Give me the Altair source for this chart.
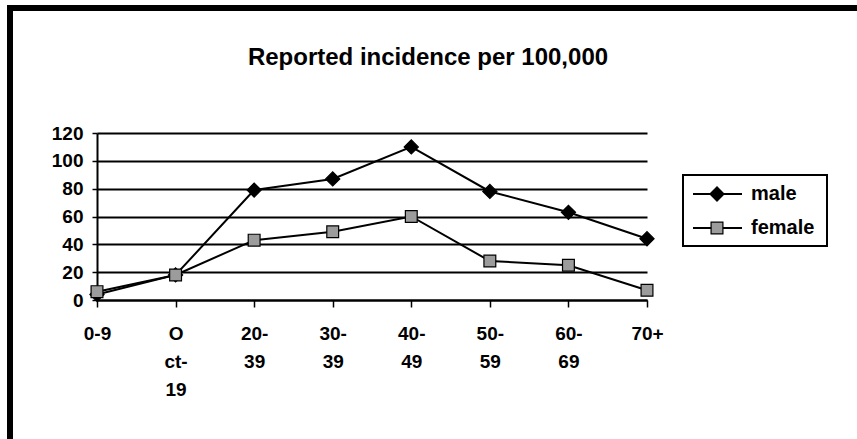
import altair as alt
import pandas as pd

# Age groups (tick labels use "|" as a line break)
age_groups = ["0-9", "O|ct-|19", "20-|39", "30-|39", "40-|49", "50-|59", "60-|69", "70+"]
male = [4, 18, 79, 87, 110, 78, 63, 44]
female = [6, 18, 43, 49, 60, 28, 25, 7]
series = ["male", "female"]
y_ticks = [0, 20, 40, 60, 80, 100, 120]
title_text = "Reported incidence per 100,000"

rows = []
for name, vals in zip(series, [male, female]):
    for g, v in zip(age_groups, vals):
        rows.append({"age": g, "incidence": v, "sex": name})
df = pd.DataFrame(rows)
legend_df = pd.DataFrame({"sex": series})
one_row = pd.DataFrame({"title": [title_text]})

FONT = "Liberation Sans"
MARKER_FILL = ["black", "#9c9c9c"]
MARKER_SHAPE = ["diamond", "square"]
MARKER_SIZE = [200, 140]

x_enc = alt.X(
    "age:N",
    sort=age_groups,
    scale=alt.Scale(type="point", padding=0),
    axis=alt.Axis(
        title=None,
        labelExpr="split(datum.value, '|')",
        labelAngle=0,
        labelFont=FONT,
        labelFontSize=19,
        labelFontWeight="bold",
        labelColor="black",
        labelLineHeight=28,
        labelBaseline="top",
        labelPadding=17,
        tickSize=7,
        tickColor="black",
        tickWidth=1.5,
        domainColor="black",
        domainWidth=2,
        grid=False,
    ),
)
y_enc = alt.Y(
    "incidence:Q",
    scale=alt.Scale(domain=[0, 120], nice=False),
    axis=alt.Axis(
        title=None,
        values=y_ticks,
        labelFont=FONT,
        labelFontSize=19,
        labelFontWeight="bold",
        labelColor="black",
        labelPadding=9,
        tickSize=5,
        tickColor="black",
        tickWidth=1.5,
        domainColor="black",
        domainWidth=2,
        grid=True,
        gridColor="black",
        gridWidth=1.8,
        gridOpacity=1,
    ),
)

shape_enc = alt.Shape("sex:N", scale=alt.Scale(domain=series, range=MARKER_SHAPE), legend=None)
fill_enc = alt.Fill("sex:N", scale=alt.Scale(domain=series, range=MARKER_FILL), legend=None)
size_enc = alt.Size("sex:N", scale=alt.Scale(domain=series, range=MARKER_SIZE), legend=None)

base = alt.Chart(df)

lines = base.mark_line(color="black", strokeWidth=2).encode(
    x=x_enc, y=y_enc, detail="sex:N"
)
points = base.mark_point(filled=True, stroke="black", strokeWidth=1.2, opacity=1).encode(
    x=x_enc, y=y_enc, shape=shape_enc, fill=fill_enc, size=size_enc
)
plot = alt.layer(lines, points)

# Legend drawn from the series names, rows placed by a point scale
leg_y = alt.Y(
    "sex:N",
    sort=series,
    scale=alt.Scale(type="point", domain=series, range=[61, 95], padding=0),
    axis=None,
)
leg_base = alt.Chart(legend_df)
leg_box = alt.Chart(one_row).mark_rect(
    fill="white", stroke="black", strokeWidth=2
).encode(x=alt.value(586), x2=alt.value(730), y=alt.value(42), y2=alt.value(113))
leg_line = leg_base.mark_rule(color="black", strokeWidth=2).encode(
    x=alt.value(596), x2=alt.value(645), y=leg_y
)
leg_pts = leg_base.mark_point(filled=True, stroke="black", strokeWidth=1.2, opacity=1).encode(
    x=alt.value(620), y=leg_y, shape=shape_enc, fill=fill_enc, size=size_enc
)
leg_text = leg_base.mark_text(
    align="left", baseline="middle", font=FONT, fontSize=20, fontWeight="bold", color="black"
).encode(x=alt.value(654), y=leg_y, text="sex:N")
legend = alt.layer(leg_box, leg_line, leg_pts, leg_text)

# Heading and frame lines along the top and left edges
heading = alt.Chart(one_row).mark_text(
    font=FONT, fontSize=24, fontWeight="bold", color="black", align="center", baseline="alphabetic"
).encode(x=alt.value(331), y=alt.value(-68), text="title:N")
frame_top = alt.Chart(one_row).mark_rule(color="black", strokeWidth=6).encode(
    x=alt.value(-90), x2=alt.value(760), y=alt.value(-125)
)
frame_left = alt.Chart(one_row).mark_rule(color="black", strokeWidth=6).encode(
    x=alt.value(-87), y=alt.value(-128), y2=alt.value(306)
)

chart = (
    alt.layer(frame_top, frame_left, heading, plot, legend)
    .resolve_scale(y="independent")
    .properties(
        width=550,
        height=167,
        padding={"left": 97, "top": 133, "right": 210, "bottom": 139},
        autosize=alt.AutoSizeParams(type="none"),
        background="white",
    )
    .configure_view(stroke=None)
)

chart.save("out.html", embed_options={"renderer": "svg", "actions": False})
